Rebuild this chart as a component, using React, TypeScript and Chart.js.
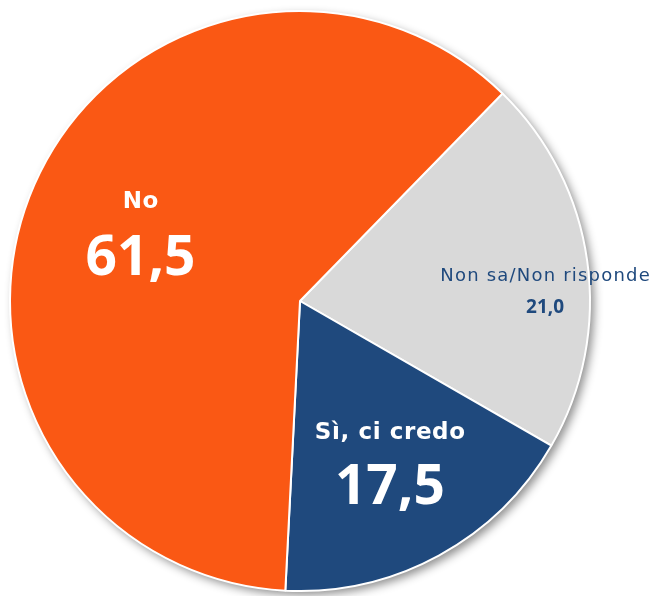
import React, { useEffect, useRef } from "react";
import { Chart, registerables } from "chart.js";

Chart.register(...registerables);

const categories = ["Non sa/Non risponde", "Sì, ci credo", "No"];
const values = [21.0, 17.5, 61.5];
const sliceColors = ["#D9D9D9", "#1F497D", "#FA5814"];
const labelColors = ["#1F497D", "#FFFFFF", "#FFFFFF"];

const NAME_FONT = "'DejaVu Sans', 'Open Sans', sans-serif";
const VALUE_FONT = "'Open Sans', 'DejaVu Sans', sans-serif";

// label placement relative to pie center, in units of radius
const labelAnchors = [
  { dx: 0.845, nameDy: -0.07, valDy: 0.04, nameSize: 18, nameWeight: "normal", nameSpacing: 1.2, valSize: 19 },
  { dx: 0.31, nameDy: 0.475, valDy: 0.70, nameSize: 23, nameWeight: "bold", nameSpacing: 0.6, valSize: 55 },
  { dx: -0.55, nameDy: -0.32, valDy: -0.09, nameSize: 23, nameWeight: "bold", nameSpacing: 0.5, valSize: 55 },
];

const fmt = (v: number) => v.toFixed(1).replace(".", ",");

const shadowPlugin = {
  id: "pieShadow",
  beforeDatasetsDraw(chart: any) {
    const meta = chart.getDatasetMeta(0);
    const arc = meta.data[0];
    if (!arc) return;
    const { x, y, outerRadius } = arc.getProps(["x", "y", "outerRadius"], true);
    const ctx = chart.ctx;
    ctx.save();
    ctx.shadowColor = "rgba(0,0,0,0.45)";
    ctx.shadowBlur = 10;
    ctx.shadowOffsetX = 4;
    ctx.shadowOffsetY = 4;
    ctx.beginPath();
    ctx.arc(x, y, outerRadius, 0, Math.PI * 2);
    ctx.fillStyle = "#ffffff";
    ctx.fill();
    ctx.restore();
  },
};

const labelPlugin = {
  id: "pieLabels",
  afterDatasetsDraw(chart: any) {
    const meta = chart.getDatasetMeta(0);
    const arc0 = meta.data[0];
    if (!arc0) return;
    const { x, y, outerRadius } = arc0.getProps(["x", "y", "outerRadius"], true);
    const ctx = chart.ctx;
    ctx.save();
    ctx.textAlign = "center";
    ctx.textBaseline = "alphabetic";
    categories.forEach((cat, i) => {
      const a = labelAnchors[i];
      const cx = x + a.dx * outerRadius;
      ctx.fillStyle = labelColors[i];
      ctx.font = `${a.nameWeight} ${a.nameSize}px ${NAME_FONT}`;
      (ctx as any).letterSpacing = `${a.nameSpacing}px`;
      ctx.fillText(cat, cx + a.nameSpacing / 2, y + a.nameDy * outerRadius);
      (ctx as any).letterSpacing = "0px";
      ctx.font = `bold ${a.valSize}px ${VALUE_FONT}`;
      ctx.fillText(fmt(values[i]), cx, y + a.valDy * outerRadius);
    });
    ctx.restore();
  },
};

export default function App() {
  const ref = useRef<HTMLCanvasElement>(null);
  useEffect(() => {
    if (!ref.current) return;
    const chart = new Chart(ref.current, {
      type: "pie",
      data: {
        labels: categories,
        datasets: [
          {
            data: values,
            backgroundColor: sliceColors,
            borderColor: "#FFFFFF",
            borderWidth: 2,
          },
        ],
      },
      options: {
        animation: false,
        responsive: false,
        rotation: 44.3,
        layout: { padding: { left: 9, right: 63, top: 10, bottom: 4 } },
        plugins: {
          legend: { display: false },
          tooltip: { enabled: false },
        },
      },
      plugins: [shadowPlugin, labelPlugin],
    });
    return () => chart.destroy();
  }, []);
  return (
    <div style={{ position: "fixed", left: 0, top: 0, width: 654, height: 596, background: "#fff" }}>
      <canvas ref={ref} width={654} height={596} style={{ width: 654, height: 596 }} />
    </div>
  );
}
